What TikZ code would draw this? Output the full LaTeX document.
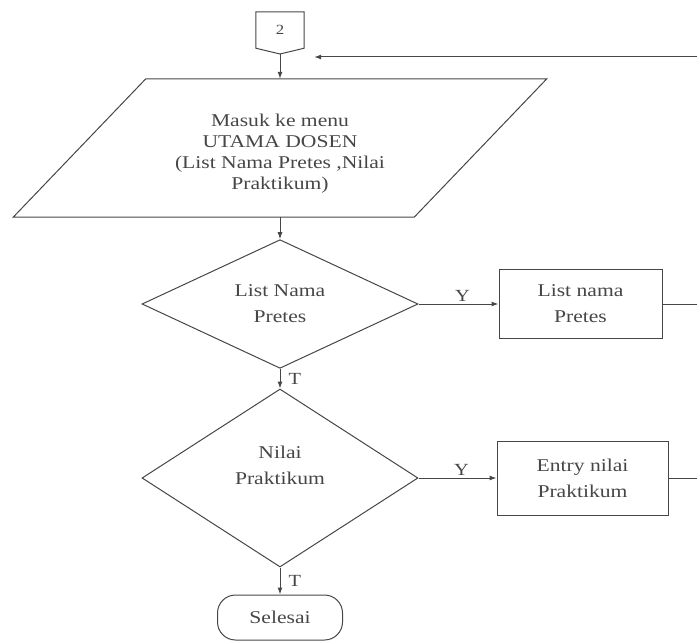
\documentclass[tikz,border=0pt]{standalone}
\usepackage{fontspec}
\setmainfont{Liberation Serif}[FakeStretch=1.2]
\usetikzlibrary{shapes.geometric,arrows.meta}

\definecolor{inkgray}{RGB}{70,70,70}

\tikzset{
  txt/.style={text=inkgray, align=center, inner sep=0pt, font=\fontsize{18}{26}\selectfont},
  procbox/.style={txt, draw=inkgray, line width=1pt, rectangle},
  decision/.style={procbox, diamond},
  terminal/.style={procbox, rounded corners=18pt},
  flow/.style={draw=inkgray, line width=1pt},
  arr/.style={flow, -{Latex[length=7pt,width=5pt]}},
  yt/.style={txt, font=\fontsize{17}{20}\selectfont}
}

\begin{document}
\begin{tikzpicture}[x=1pt,y=1pt,yscale=-1,xscale=1]
\useasboundingbox (0,0) rectangle (697,642);

%Shape: Off page connector
\node[txt, minimum width=48pt, minimum height=36pt, font=\fontsize{14}{16}\selectfont] (conn) at (280,30) {2};
\coordinate (connTip) at (280,54);
\draw[flow] (conn.north west) -- (conn.north east) -- (conn.south east) -- (connTip) -- (conn.south west) -- cycle;
\coordinate (back) at (697,57);

%Shape: Parallelogram
\node[minimum width=268pt, minimum height=138pt, inner sep=0pt] (menu) at (280,148) {};
\draw[flow] (menu.north west) -- ++(401,0) -- (menu.south east) -- ++(-401,0) -- cycle;
% Text Node
\node[txt, font=\fontsize{18}{21}\selectfont] (menutxt) at (280,154) {Masuk ke menu\\UTAMA DOSEN\\(List Nama Pretes ,Nilai\\Praktikum)};

%Shape: Diamond
\node[decision, minimum width=276pt, minimum height=122pt] (pretes) at (280,304) {List Nama\\Pretes};
\node[procbox, minimum width=163pt, minimum height=69pt] (listpretes) at (580.5,304) {List nama\\Pretes};

%Shape: Diamond
\node[decision, minimum width=276pt, minimum height=178pt] (nilai) at (280,478) {};
% Text Node
\node[txt] (nilaitxt) at ([yshift=-13pt]nilai.center) {Nilai\\Praktikum};
\node[procbox, minimum width=171pt, minimum height=74pt] (entry) at (582.5,478) {Entry nilai\\Praktikum};

%Shape: Terminal
\node[terminal, minimum width=125pt, minimum height=45pt] (selesai) at (280,617.5) {Selesai};

%Straight Lines
\draw[arr] (connTip) -- (menu.north);
\draw[arr] (back) -- ([xshift=10pt]conn.east |- back);
\draw[arr] (menu.south) -- (pretes.north);
\draw[arr] (pretes.south) -- node[yt, right, xshift=8pt] {T} (nilai.north);
\draw[arr] (nilai.south) -- node[yt, right, xshift=8pt] {T} (selesai.north);
\draw[arr] (pretes.east) -- node[yt, above, pos=0.55, yshift=2pt] {Y} (listpretes.west);
\draw[arr] (nilai.east) -- node[yt, above, pos=0.55, yshift=2pt] {Y} (entry.west);
\draw[flow] (listpretes.east) -- (listpretes.east -| back);
\draw[flow] (entry.east) -- (entry.east -| back);

\end{tikzpicture}
\end{document}
